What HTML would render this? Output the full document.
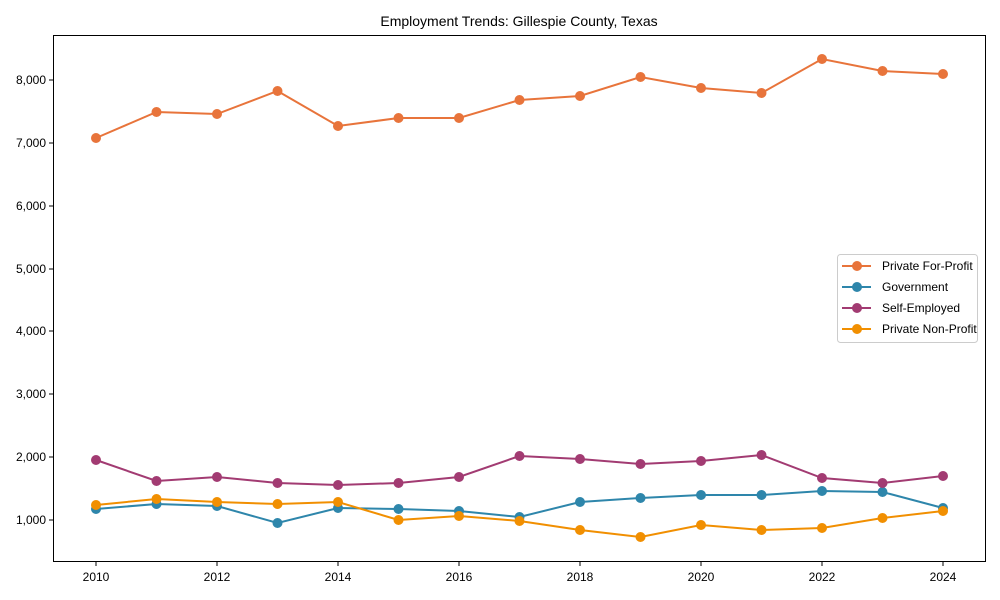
<!DOCTYPE html>
<html><head><meta charset="utf-8"><style>body{margin:0;background:#fff}svg{display:block;font-family:"Liberation Sans",Arial,sans-serif}</style></head><body>
<svg width="1000" height="600" xmlns="http://www.w3.org/2000/svg">
<rect width="1000" height="600" fill="#fff"/>
<text x="519" y="26" font-size="14" text-anchor="middle" fill="#000">Employment Trends: Gillespie County, Texas</text>
<rect x="53.5" y="35.5" width="932" height="526" fill="none" stroke="#000" stroke-width="1"/>
<g font-size="12" fill="#000" text-anchor="end">
<g stroke="#000"><line x1="49" x2="53" y1="80" y2="80"/><line x1="49" x2="53" y1="143" y2="143"/><line x1="49" x2="53" y1="206" y2="206"/><line x1="49" x2="53" y1="269" y2="269"/><line x1="49" x2="53" y1="331" y2="331"/><line x1="49" x2="53" y1="394" y2="394"/><line x1="49" x2="53" y1="457" y2="457"/><line x1="49" x2="53" y1="520" y2="520"/></g>
<text x="46" y="84">8,000</text><text x="46" y="147">7,000</text><text x="46" y="210">6,000</text><text x="46" y="273">5,000</text><text x="46" y="335">4,000</text><text x="46" y="398">3,000</text><text x="46" y="461">2,000</text><text x="46" y="524">1,000</text>
</g>
<g font-size="12" fill="#000" text-anchor="middle">
<g stroke="#000"><line x1="96" x2="96" y1="562" y2="566"/><line x1="217" x2="217" y1="562" y2="566"/><line x1="338" x2="338" y1="562" y2="566"/><line x1="459" x2="459" y1="562" y2="566"/><line x1="580" x2="580" y1="562" y2="566"/><line x1="701" x2="701" y1="562" y2="566"/><line x1="822" x2="822" y1="562" y2="566"/><line x1="943" x2="943" y1="562" y2="566"/></g>
<text x="96" y="581">2010</text><text x="217" y="581">2012</text><text x="338" y="581">2014</text><text x="459" y="581">2016</text><text x="580" y="581">2018</text><text x="701" y="581">2020</text><text x="822" y="581">2022</text><text x="943" y="581">2024</text>
</g>
<defs>
<g id="s"></g>
</defs>
<g stroke-width="2" fill="none">
<polyline stroke="#E8743B" points="96,138 156.5,112 217,114 277.5,91 338,126 398.5,118 459,118 519.5,100 580,96 640.5,77 701,88 761.5,93 822,59 882.5,71 943,74"/>
<polyline stroke="#2E86AB" points="96,509 156.5,504 217,506 277.5,523 338,508 398.5,509 459,511 519.5,517 580,502 640.5,498 701,495 761.5,495 822,491 882.5,492 943,508"/>
<polyline stroke="#A23B72" points="96,460 156.5,481 217,477 277.5,483 338,485 398.5,483 459,477 519.5,456 580,459 640.5,464 701,461 761.5,455 822,478 882.5,483 943,476"/>
<polyline stroke="#F18F01" points="96,505 156.5,499 217,502 277.5,504 338,502 398.5,520 459,516 519.5,521 580,530 640.5,537 701,525 761.5,530 822,528 882.5,518 943,511"/>
</g>
<g fill="#E8743B"><circle cx="96" cy="138" r="5"/><circle cx="156.5" cy="112" r="5"/><circle cx="217" cy="114" r="5"/><circle cx="277.5" cy="91" r="5"/><circle cx="338" cy="126" r="5"/><circle cx="398.5" cy="118" r="5"/><circle cx="459" cy="118" r="5"/><circle cx="519.5" cy="100" r="5"/><circle cx="580" cy="96" r="5"/><circle cx="640.5" cy="77" r="5"/><circle cx="701" cy="88" r="5"/><circle cx="761.5" cy="93" r="5"/><circle cx="822" cy="59" r="5"/><circle cx="882.5" cy="71" r="5"/><circle cx="943" cy="74" r="5"/></g>
<g fill="#2E86AB"><circle cx="96" cy="509" r="5"/><circle cx="156.5" cy="504" r="5"/><circle cx="217" cy="506" r="5"/><circle cx="277.5" cy="523" r="5"/><circle cx="338" cy="508" r="5"/><circle cx="398.5" cy="509" r="5"/><circle cx="459" cy="511" r="5"/><circle cx="519.5" cy="517" r="5"/><circle cx="580" cy="502" r="5"/><circle cx="640.5" cy="498" r="5"/><circle cx="701" cy="495" r="5"/><circle cx="761.5" cy="495" r="5"/><circle cx="822" cy="491" r="5"/><circle cx="882.5" cy="492" r="5"/><circle cx="943" cy="508" r="5"/></g>
<g fill="#A23B72"><circle cx="96" cy="460" r="5"/><circle cx="156.5" cy="481" r="5"/><circle cx="217" cy="477" r="5"/><circle cx="277.5" cy="483" r="5"/><circle cx="338" cy="485" r="5"/><circle cx="398.5" cy="483" r="5"/><circle cx="459" cy="477" r="5"/><circle cx="519.5" cy="456" r="5"/><circle cx="580" cy="459" r="5"/><circle cx="640.5" cy="464" r="5"/><circle cx="701" cy="461" r="5"/><circle cx="761.5" cy="455" r="5"/><circle cx="822" cy="478" r="5"/><circle cx="882.5" cy="483" r="5"/><circle cx="943" cy="476" r="5"/></g>
<g fill="#F18F01"><circle cx="96" cy="505" r="5"/><circle cx="156.5" cy="499" r="5"/><circle cx="217" cy="502" r="5"/><circle cx="277.5" cy="504" r="5"/><circle cx="338" cy="502" r="5"/><circle cx="398.5" cy="520" r="5"/><circle cx="459" cy="516" r="5"/><circle cx="519.5" cy="521" r="5"/><circle cx="580" cy="530" r="5"/><circle cx="640.5" cy="537" r="5"/><circle cx="701" cy="525" r="5"/><circle cx="761.5" cy="530" r="5"/><circle cx="822" cy="528" r="5"/><circle cx="882.5" cy="518" r="5"/><circle cx="943" cy="511" r="5"/></g>
<rect x="837.5" y="254.5" width="140" height="88" rx="3" fill="#fff" fill-opacity="0.8" stroke="#ccc"/>
<g stroke-width="2">
<line x1="842" x2="871" y1="266" y2="266" stroke="#E8743B"/><circle cx="857" cy="266" r="5" fill="#E8743B"/>
<line x1="842" x2="871" y1="287" y2="287" stroke="#2E86AB"/><circle cx="857" cy="287" r="5" fill="#2E86AB"/>
<line x1="842" x2="871" y1="308" y2="308" stroke="#A23B72"/><circle cx="857" cy="308" r="5" fill="#A23B72"/>
<line x1="842" x2="871" y1="329" y2="329" stroke="#F18F01"/><circle cx="857" cy="329" r="5" fill="#F18F01"/>
</g>
<g font-size="12" fill="#000">
<text x="882" y="270">Private For-Profit</text><text x="882" y="291">Government</text><text x="882" y="312">Self-Employed</text><text x="882" y="333">Private Non-Profit</text>
</g>
</svg>
</body></html>
